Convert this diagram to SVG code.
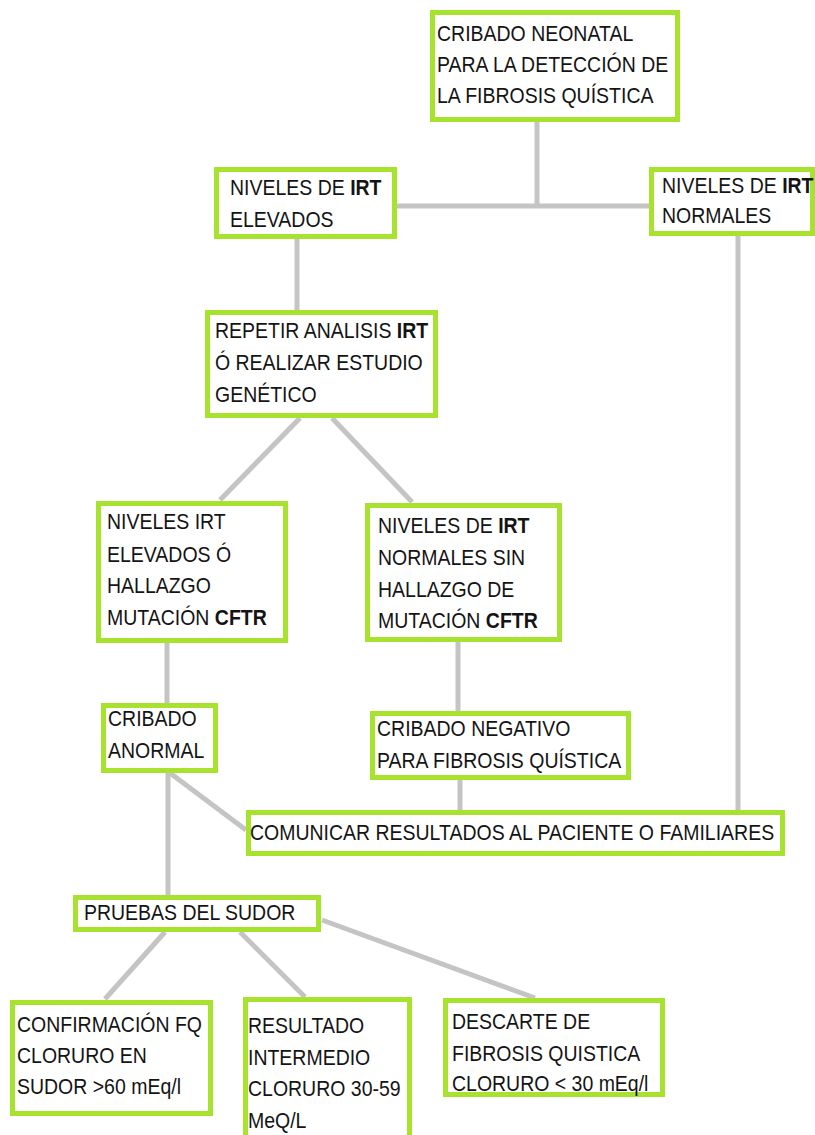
<svg xmlns="http://www.w3.org/2000/svg" width="815" height="1135" viewBox="0 0 815 1135">
<style>
.box{fill:#fff;stroke:#a6e22e;stroke-width:5}
.c{stroke:#c4c4c4;stroke-width:5;fill:none}
text{font-family:"Liberation Sans",Arial,sans-serif;font-size:22px;fill:#141414}
.b{font-weight:bold}
</style>
<rect width="815" height="1135" fill="#fff"/>
<g id="connectors">
<line class="c" x1="537" y1="122" x2="537" y2="206"/>
<line class="c" x1="397" y1="206" x2="650" y2="206"/>
<line class="c" x1="297" y1="238" x2="297" y2="310"/>
<line class="c" x1="300" y1="418" x2="220" y2="500"/>
<line class="c" x1="332" y1="418" x2="412" y2="502"/>
<line class="c" x1="167" y1="643" x2="167" y2="703"/>
<line class="c" x1="458" y1="642" x2="458" y2="711"/>
<line class="c" x1="738" y1="236" x2="738" y2="810"/>
<line class="c" x1="460" y1="780" x2="460" y2="810"/>
<line class="c" x1="170" y1="773" x2="246" y2="830"/>
<line class="c" x1="168" y1="773" x2="168" y2="895"/>
<line class="c" x1="165" y1="932" x2="105" y2="999"/>
<line class="c" x1="240" y1="932" x2="305" y2="997"/>
<line class="c" x1="322" y1="920" x2="535" y2="998"/>
</g>
<g id="n1"><rect class="box" x="432.5" y="12.5" width="245" height="107"/>
<text transform="matrix(.886 0 0 1 437 41)">CRIBADO NEONATAL</text><text transform="matrix(.886 0 0 1 437 72)">PARA LA DETECCIÓN DE</text><text transform="matrix(.886 0 0 1 437 103)">LA FIBROSIS QUÍSTICA</text></g>
<g id="n2"><rect class="box" x="216.5" y="169.5" width="178" height="67"/>
<text transform="matrix(.886 0 0 1 230 195)">NIVELES DE <tspan class="b">IRT</tspan></text><text transform="matrix(.886 0 0 1 230 227)">ELEVADOS</text></g>
<g id="n3"><rect class="box" x="651.5" y="169.5" width="161" height="64"/>
<text transform="matrix(.886 0 0 1 662 193)">NIVELES DE <tspan class="b">IRT</tspan></text><text transform="matrix(.886 0 0 1 662 223)">NORMALES</text></g>
<g id="n4"><rect class="box" x="207.5" y="312.5" width="228" height="103"/>
<text transform="matrix(.886 0 0 1 215 338)">REPETIR ANALISIS <tspan class="b">IRT</tspan></text><text transform="matrix(.886 0 0 1 215 370)">Ó REALIZAR ESTUDIO</text><text transform="matrix(.886 0 0 1 215 402)">GENÉTICO</text></g>
<g id="n5"><rect class="box" x="98.5" y="503.5" width="187" height="137"/>
<text transform="matrix(.886 0 0 1 107 529)">NIVELES IRT</text><text transform="matrix(.886 0 0 1 107 562)">ELEVADOS Ó</text><text transform="matrix(.886 0 0 1 107 593)">HALLAZGO</text><text transform="matrix(.886 0 0 1 107 625)">MUTACIÓN <tspan class="b">CFTR</tspan></text></g>
<g id="n6"><rect class="box" x="367.5" y="505.5" width="192" height="134"/>
<text transform="matrix(.886 0 0 1 378 533)">NIVELES DE <tspan class="b">IRT</tspan></text><text transform="matrix(.886 0 0 1 378 565)">NORMALES SIN</text><text transform="matrix(.886 0 0 1 378 597)">HALLAZGO DE</text><text transform="matrix(.886 0 0 1 378 628)">MUTACIÓN <tspan class="b">CFTR</tspan></text></g>
<g id="n7"><rect class="box" x="103.5" y="705.5" width="112" height="65"/>
<text transform="matrix(.886 0 0 1 108 726)">CRIBADO</text><text transform="matrix(.886 0 0 1 108 758)">ANORMAL</text></g>
<g id="n8"><rect class="box" x="372.5" y="713.5" width="256" height="64"/>
<text transform="matrix(.886 0 0 1 377 736)">CRIBADO NEGATIVO</text><text transform="matrix(.886 0 0 1 377 768)">PARA FIBROSIS QUÍSTICA</text></g>
<g id="n9"><rect class="box" x="248.5" y="812.5" width="534" height="41"/>
<text transform="matrix(.886 0 0 1 250 840)">COMUNICAR RESULTADOS AL PACIENTE O FAMILIARES</text></g>
<g id="n10"><rect class="box" x="75.5" y="897.5" width="243" height="32"/>
<text transform="matrix(.886 0 0 1 84 920)">PRUEBAS DEL SUDOR</text></g>
<g id="n11"><rect class="box" x="12.5" y="1002.5" width="198" height="111"/>
<text transform="matrix(.886 0 0 1 17 1032)">CONFIRMACIÓN FQ</text><text transform="matrix(.886 0 0 1 17 1063)">CLORURO EN</text><text transform="matrix(.886 0 0 1 17 1094)">SUDOR &gt;60 mEq/l</text></g>
<g id="n12"><rect class="box" x="245.5" y="999.5" width="164" height="140"/>
<text transform="matrix(.886 0 0 1 248 1033)">RESULTADO</text><text transform="matrix(.886 0 0 1 248 1065)">INTERMEDIO</text><text transform="matrix(.886 0 0 1 248 1096)">CLORURO 30-59</text><text transform="matrix(.886 0 0 1 248 1128)">MeQ/L</text></g>
<g id="n13"><rect class="box" x="445.5" y="1000.5" width="217" height="94"/>
<text transform="matrix(.886 0 0 1 452 1029)">DESCARTE DE</text><text transform="matrix(.886 0 0 1 452 1061)">FIBROSIS QUISTICA</text><text transform="matrix(.886 0 0 1 452 1091)">CLORURO &lt; 30 mEq/l</text></g>
</svg>
